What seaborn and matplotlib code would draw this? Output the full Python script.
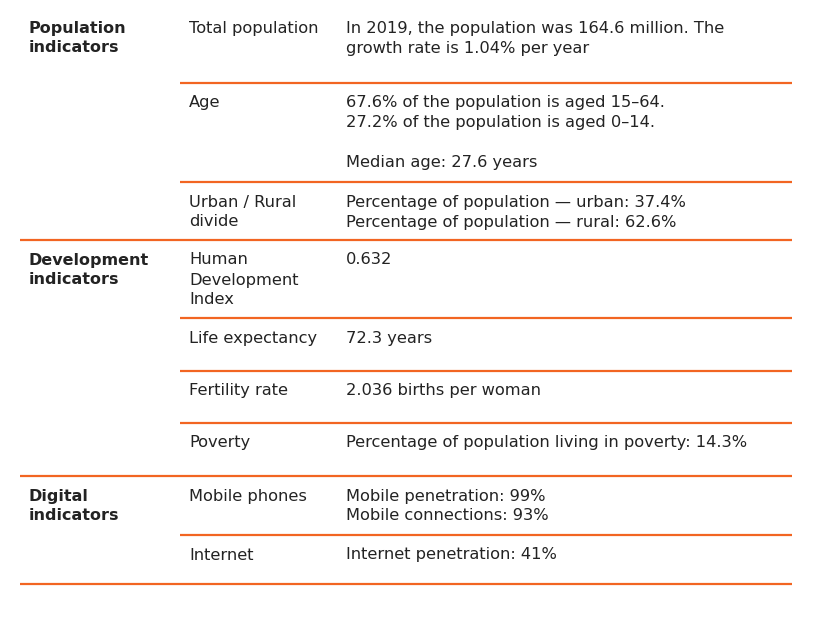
import matplotlib
matplotlib.use("Agg")
import matplotlib.pyplot as plt
import seaborn as sns

# table content
sections = ["Population\nindicators", "Development\nindicators", "Digital\nindicators"]
section_rows = [3, 4, 2]  # number of sub-rows per section
labels = [
    "Total population",
    "Age",
    "Urban / Rural\ndivide",
    "Human\nDevelopment\nIndex",
    "Life expectancy",
    "Fertility rate",
    "Poverty",
    "Mobile phones",
    "Internet",
]
descriptions = [
    "In 2019, the population was 164.6 million. The\ngrowth rate is 1.04% per year",
    "67.6% of the population is aged 15\u201364.\n27.2% of the population is aged 0\u201314.\n\nMedian age: 27.6 years",
    "Percentage of population \u2014 urban: 37.4%\nPercentage of population \u2014 rural: 62.6%",
    "0.632",
    "72.3 years",
    "2.036 births per woman",
    "Percentage of population living in poverty: 14.3%",
    "Mobile penetration: 99%\nMobile connections: 93%",
    "Internet penetration: 41%",
]

# layout (pixels)
W, H = 817, 618
row_heights = [75, 99, 58, 78, 53, 52, 53, 59, 49]
top = 8
col_x = [29, 189, 346]
line_step = 20
first_off = 20
orange = "#F26522"
ink = "#232323"

sns.set_theme(style="white")
plt.rcParams["font.family"] = ["DejaVu Sans"]

fig = plt.figure(figsize=(W / 100, H / 100), dpi=100)
ax = fig.add_axes([0, 0, 1, 1])
ax.set_xlim(0, W)
ax.set_ylim(H, 0)
ax.axis("off")

def put_lines(x, y0, text, size=11.7, **kw):
    for i, line in enumerate(text.split("\n")):
        if line:
            ax.text(x, y0 + i * line_step, line, ha="left", va="center",
                    fontsize=size, color=ink, **kw)

y = top
r = 0
for s, sec in enumerate(sections):
    put_lines(col_x[0], y + first_off, sec, size=11.5, fontweight="bold")
    for k in range(section_rows[s]):
        put_lines(col_x[1], y + first_off, labels[r])
        put_lines(col_x[2], y + first_off, descriptions[r])
        y += row_heights[r]
        last = k == section_rows[s] - 1
        ax.hlines(y, 20 if last else 180, 792, color=orange, lw=1.6)
        r += 1

fig.savefig("out.png", dpi=100, facecolor="white")
